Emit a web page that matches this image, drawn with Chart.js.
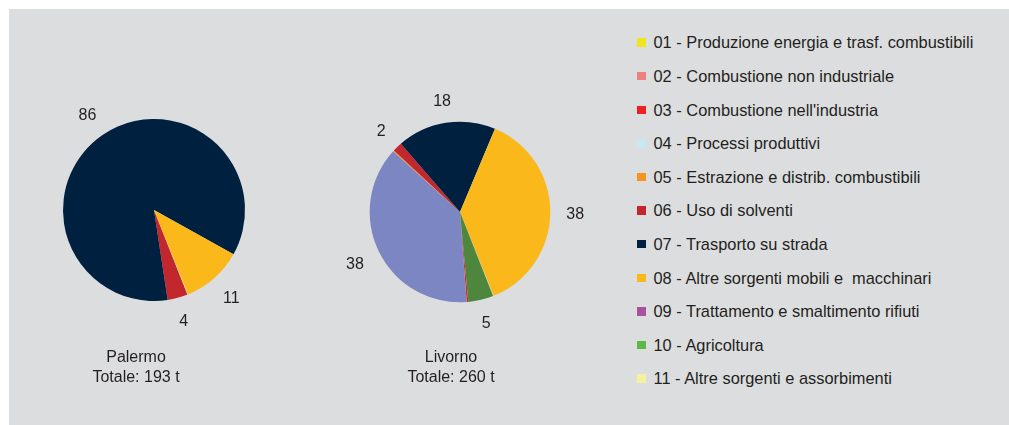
<!DOCTYPE html>
<html>
<head>
<meta charset="utf-8">
<script src="https://cdn.jsdelivr.net/npm/chart.js@4.4.1/dist/chart.umd.min.js"></script>
<style>
  html, body { margin: 0; padding: 0; background: #ffffff; }
  body { width: 1009px; height: 425px; position: relative; overflow: hidden;
         font-family: "Liberation Sans", Arial, Helvetica, sans-serif; color: #231f20; }
  #panel { position: absolute; left: 9px; top: 9px; width: 1000px; height: 416px; background: #dcdddf; }
  canvas.pie { position: absolute; }
  .ttl { position: absolute; width: 200px; text-align: center; font-size: 16px; line-height: 20px; }
  .lg-row { position: absolute; left: 637px; height: 20px; font-size: 16.4px; line-height: 20px; white-space: pre; }
  .lg-sq { position: absolute; left: 0; top: 6px; width: 8.5px; height: 8.5px; }
  .lg-tx { position: absolute; left: 16.5px; top: 0; }
</style>
</head>
<body>
<div id="panel"></div>
<canvas id="palermo" class="pie" width="300" height="300" style="left:4px;top:60px"></canvas>
<canvas id="livorno" class="pie" width="300" height="300" style="left:310px;top:62px"></canvas>
<div class="ttl" style="left:36px;top:347px">Palermo<br>Totale: 193 t</div>
<div class="ttl" style="left:351px;top:347px">Livorno<br>Totale: 260 t</div>
<div id="legend"></div>
<script>
// ---- data ----
const categories = [
  "01 - Produzione energia e trasf. combustibili",
  "02 - Combustione non industriale",
  "03 - Combustione nell'industria",
  "04 - Processi produttivi",
  "05 - Estrazione e distrib. combustibili",
  "06 - Uso di solventi",
  "07 - Trasporto su strada",
  "08 - Altre sorgenti mobili e  macchinari",
  "09 - Trattamento e smaltimento rifiuti",
  "10 - Agricoltura",
  "11 - Altre sorgenti e assorbimenti"
];
// percentage shares per sector
const palermoValues = [0, 0, 0, 0, 0, 3.6, 85.5, 10.8, 0.1, 0, 0];
const livornoValues = [0, 0, 0.3, 37.9, 0.2, 1.7, 17.7, 37.6, 0.1, 4.5, 0];
const cityNames = ["Palermo", "Livorno"];
const cityTotals = [193, 260];

const pieColors = ["#efe41d", "#f08080", "#e0282a", "#7b86c2", "#f7941d", "#c1272d",
                   "#00203f", "#fab81b", "#e2e7a0", "#4e863d", "#f6f19e"];
const legendColors = ["#efe41d", "#f08080", "#ed2024", "#c8e7f1", "#f7941d", "#c1272d",
                      "#00203f", "#fbb81b", "#a9519c", "#5cb848", "#f6f19e"];

// ---- legend ----
const lg = document.getElementById('legend');
categories.forEach((c, i) => {
  const row = document.createElement('div');
  row.className = 'lg-row';
  row.style.top = (42.3 + i * 33.6 - 10) + 'px';
  const sq = document.createElement('div');
  sq.className = 'lg-sq';
  sq.style.background = legendColors[i];
  const tx = document.createElement('div');
  tx.className = 'lg-tx';
  tx.textContent = c;
  row.appendChild(sq); row.appendChild(tx);
  lg.appendChild(row);
});

// ---- outside labels plugin ----
const outsideLabels = {
  id: 'outsideLabels',
  afterDatasetsDraw(chart) {
    const ctx = chart.ctx;
    const meta = chart.getDatasetMeta(0);
    const data = chart.data.datasets[0].data;
    ctx.save();
    ctx.font = '16px "Liberation Sans", Arial, sans-serif';
    ctx.fillStyle = '#231f20';
    ctx.textAlign = 'center';
    ctx.textBaseline = 'alphabetic';
    meta.data.forEach((arc, i) => {
      const v = Math.round(data[i]);
      if (v < 1) return;
      const p = arc.getProps(['x', 'y', 'startAngle', 'endAngle', 'outerRadius'], true);
      const mid = (p.startAngle + p.endAngle) / 2;
      const cx = Math.cos(mid), sy = Math.sin(mid);
      const txt = String(v);
      const w = ctx.measureText(txt).width;
      const h = 11.5;
      const ext = Math.abs(cx) * w / 2 + Math.abs(sy) * h / 2;
      const d = p.outerRadius + 16 + ext;
      const x = p.x + cx * d, y = p.y + sy * d;
      ctx.fillText(txt, x, y + h / 2);
    });
    ctx.restore();
  }
};

function makePie(id, values, rotation, pad) {
  new Chart(document.getElementById(id), {
    type: 'pie',
    data: {
      labels: categories,
      datasets: [{ data: values, backgroundColor: pieColors, borderWidth: 0 }]
    },
    options: {
      responsive: false,
      animation: false,
      rotation: rotation,
      layout: { padding: pad },
      plugins: { legend: { display: false }, tooltip: { enabled: false } }
    },
    plugins: [outsideLabels]
  });
}
makePie('palermo', palermoValues, 158.4, 59);
makePie('livorno', livornoValues, 174.7, 59.7);
</script>
</body>
</html>
